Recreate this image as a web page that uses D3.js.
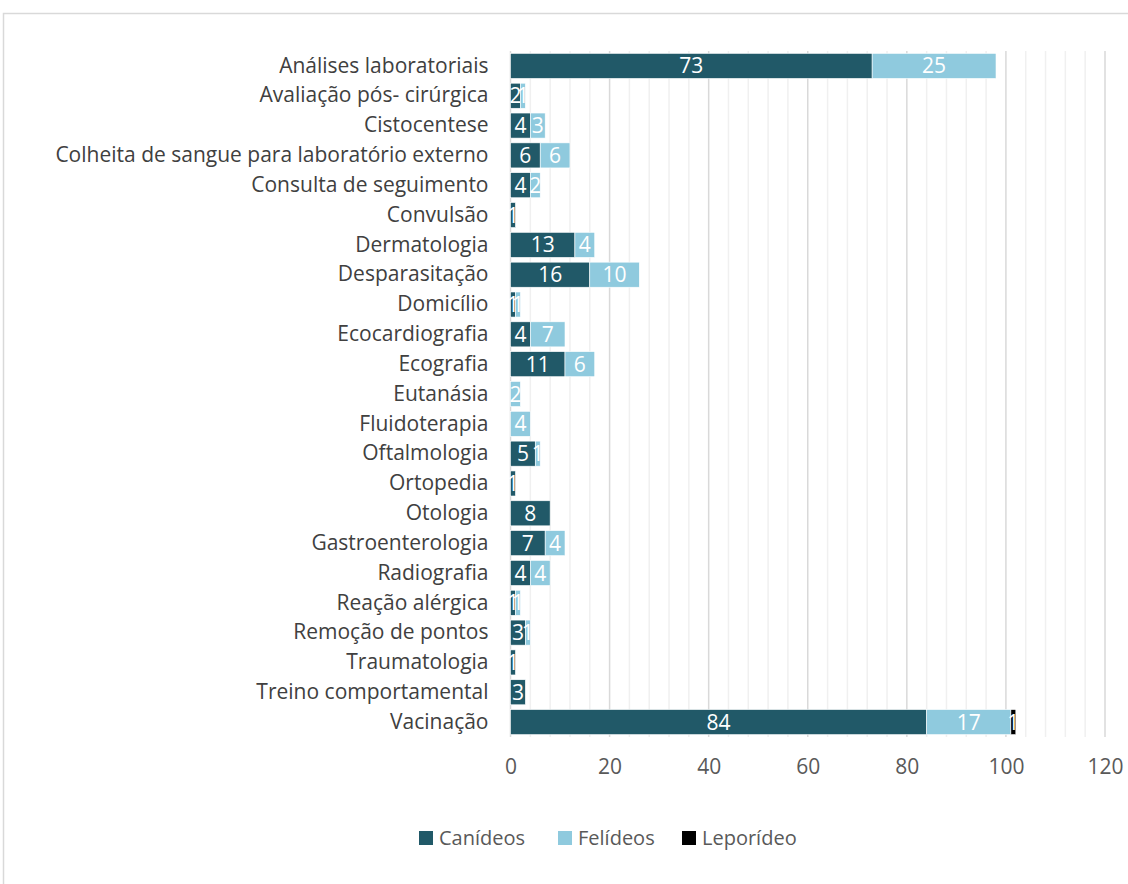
<!DOCTYPE html>
<head>
  <meta charset="utf-8">
  <title>Atos clínicos por espécie</title>
  <style>
    body { margin: 0; background: #fff; }
    text { font-family: "Open Sans", sans-serif; }
  </style>
</head>
<body>
<svg width="1128" height="884"></svg>
<script src="https://d3js.org/d3.v7.min.js"></script>
<script>

  const categories = [
    "Análises laboratoriais", "Avaliação pós- cirúrgica", "Cistocentese",
    "Colheita de sangue para laboratório externo", "Consulta de seguimento",
    "Convulsão", "Dermatologia", "Desparasitação", "Domicílio", "Ecocardiografia",
    "Ecografia", "Eutanásia", "Fluidoterapia", "Oftalmologia", "Ortopedia",
    "Otologia", "Gastroenterologia", "Radiografia", "Reação alérgica",
    "Remoção de pontos", "Traumatologia", "Treino comportamental", "Vacinação"
  ];
  const canideos  = [73, 2, 4, 6, 4, 1, 13, 16, 1, 4, 11, 0, 0, 5, 1, 8, 7, 4, 1, 3, 1, 3, 84];
  const felideos  = [25, 1, 3, 6, 2, 0, 4, 10, 1, 7, 6, 2, 4, 1, 0, 0, 4, 4, 1, 1, 0, 0, 17];
  const leporideo = [0, 0, 0, 0, 0, 0, 0, 0, 0, 0, 0, 0, 0, 0, 0, 0, 0, 0, 0, 0, 0, 0, 1];
  const seriesNames = ["Canídeos", "Felídeos", "Leporídeo"];
  const colors = ["#215968", "#8fcade", "#000000"];
  const xTicks = [0, 20, 40, 60, 80, 100, 120];

  const svg = d3.select("svg");

  // moldura da área do gráfico
  svg.append("rect")
    .attr("x", 3.5).attr("y", 13.5)
    .attr("width", 1140).attr("height", 900)
    .attr("fill", "none").attr("stroke", "#d9d9d9").attr("stroke-width", 1.5);

  const x = d3.scaleLinear().domain([0, 120]).range([510.5, 1105]);
  const y = d3.scaleBand().domain(categories).range([51, 737]).paddingInner(0.16).paddingOuter(0.08);

  // linhas de grelha (secundárias a cada 4, principais a cada 20)
  svg.append("g").selectAll("line")
    .data(d3.range(4, 120, 4).filter(v => v % 20 !== 0))
    .join("line")
    .attr("x1", d => x(d)).attr("x2", d => x(d))
    .attr("y1", 51).attr("y2", 737)
    .attr("stroke", "#f0f0f0").attr("stroke-width", 1.5);

  svg.append("g").selectAll("line")
    .data(xTicks)
    .join("line")
    .attr("x1", d => x(d)).attr("x2", d => x(d))
    .attr("y1", 51).attr("y2", 737)
    .attr("stroke", "#d9d9d9").attr("stroke-width", 1.5);

  const table = categories.map((c, i) => ({
    cat: c, "Canídeos": canideos[i], "Felídeos": felideos[i], "Leporídeo": leporideo[i]
  }));
  const stacked = d3.stack().keys(seriesNames)(table);

  const layer = svg.append("g").selectAll("g")
    .data(stacked)
    .join("g")
    .attr("fill", (d, i) => colors[i]);

  layer.selectAll("rect")
    .data(d => d.filter(p => p[1] - p[0] > 0))
    .join("rect")
    .attr("x", d => x(d[0]))
    .attr("y", d => y(d.data.cat))
    .attr("width", d => x(d[1]) - x(d[0]))
    .attr("height", y.bandwidth())
    .attr("stroke", "#fff").attr("stroke-width", 0.6);

  // rótulos de dados
  layer.selectAll("text")
    .data(d => d.filter(p => p[1] - p[0] > 0))
    .join("text")
    .attr("x", d => (x(d[0]) + x(d[1])) / 2)
    .attr("y", d => y(d.data.cat) + y.bandwidth() / 2)
    .attr("dy", "0.36em")
    .attr("text-anchor", "middle")
    .attr("fill", "#fff")
    .attr("font-size", 21)
    .text(d => d[1] - d[0]);

  // eixo vertical (categorias)
  const yAxis = svg.append("g")
    .attr("transform", `translate(${x(0)},0)`)
    .call(d3.axisLeft(y).tickSize(0).tickPadding(22));
  yAxis.select(".domain").remove();
  yAxis.selectAll("text").attr("font-size", 21).attr("fill", "#404040")
    .style("font-family", "'Open Sans', sans-serif");

  // eixo horizontal
  const xAxis = svg.append("g")
    .attr("transform", "translate(0,737)")
    .call(d3.axisBottom(x).tickValues(xTicks).tickSize(0).tickPadding(22));
  xAxis.select(".domain").remove();
  xAxis.selectAll("text").attr("font-size", 21).attr("fill", "#595959")
    .style("font-family", "'Open Sans', sans-serif");

  // legenda
  const legendX = [419, 558, 682];
  const legend = svg.append("g").selectAll("g")
    .data(seriesNames)
    .join("g")
    .attr("transform", (d, i) => `translate(${legendX[i]},831)`);
  legend.append("rect")
    .attr("width", 14).attr("height", 14)
    .attr("fill", (d, i) => colors[i]);
  legend.append("text")
    .attr("x", 20).attr("y", 7).attr("dy", "0.36em")
    .attr("font-size", 20).attr("fill", "#595959")
    .text(d => d);

</script>
</body>
